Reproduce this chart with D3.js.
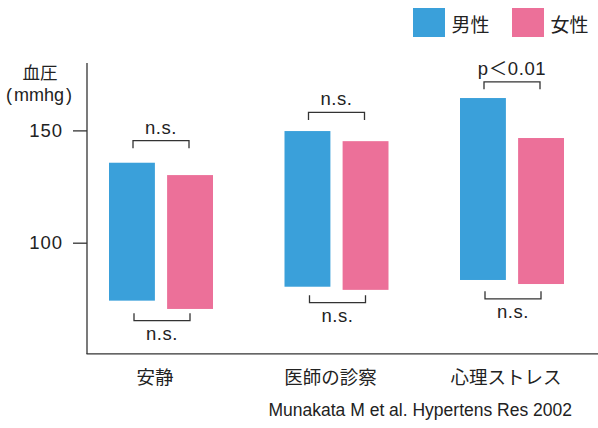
<!DOCTYPE html>
<html><head><meta charset="utf-8">
<script src="https://cdn.jsdelivr.net/npm/d3@7"></script>
<style>
html,body{margin:0;padding:0;background:#fff;}
svg{display:block;font-family:"Liberation Sans","Noto Sans CJK JP",sans-serif;}
</style></head>
<body>
<svg id="chart" width="598" height="428"></svg>
<script>
const categories = ["安静", "医師の診察", "心理ストレス"];
const sexes = ["男性", "女性"];
const colors = ["#3AA0DA", "#EC7099"];
// systolic (top) and diastolic (bottom) mmHg
const maleSys = [135.6, 149.7, 164.4];
const maleDia = [74.2, 80.4, 83.4];
const femaleSys = [130.1, 145.2, 146.6];
const femaleDia = [70.5, 79.0, 81.6];
const yTicks = [100, 150];
const topLabels = ["n.s.", "n.s.", "p＜0.01"];
const topBracket = [145.4, 158.0, 171.6];
const bottomLabels = ["n.s.", "n.s.", "n.s."];
const bottomBracket = [65.3, 73.3, 75.0];
const source = "Munakata M et al. Hypertens Res 2002";

const svg = d3.select("#chart");
const x0 = d3.scaleBand().domain(categories).range([73.25, 599.75]);
const x1 = d3.scaleBand().domain(sexes).range([-52, 52]).paddingInner(0.21);
const y = d3.scaleLinear().domain([50, 180]).range([355, 63]);
const axisColor = "#333";
const txt = "#222";

// axes lines
svg.append("line").attr("x1", 87).attr("x2", 87).attr("y1", y(180)).attr("y2", y(50.5))
  .attr("stroke", axisColor).attr("stroke-width", 1.3);
svg.append("line").attr("x1", 86.5).attr("x2", 598).attr("y1", y(50.5)).attr("y2", y(50.5))
  .attr("stroke", axisColor).attr("stroke-width", 1.3);

const yAxis = d3.axisLeft(y).tickValues(yTicks).tickSize(14).tickPadding(10);
const gy = svg.append("g").attr("transform", "translate(87,0)").call(yAxis);
gy.attr("font-size", null).attr("font-family", null);
gy.select(".domain").remove();
gy.selectAll(".tick line").attr("stroke", axisColor).attr("stroke-width", 1.3);
gy.selectAll(".tick text").style("font-size", "18.5px").attr("fill", txt)
  .style("letter-spacing", "1px")
  .style("font-family", "'Liberation Sans', sans-serif");

// y label
svg.append("text").attr("x", 40).attr("y", 78.5).attr("text-anchor", "middle")
  .style("font-size", "17.5px").attr("fill", txt)
  .style("font-family", "'Noto Sans CJK JP', sans-serif").text("血圧");
const yl2 = svg.append("text").attr("x", 6).attr("y", 100.5).attr("text-anchor", "start")
  .style("font-size", "18px").attr("fill", txt);
yl2.append("tspan").text("(");
yl2.append("tspan").attr("dx", 2).text("mmhg");
yl2.append("tspan").attr("dx", 2).text(")");

// bars
const rows = [];
categories.forEach((c, i) => {
  rows.push({c, s: sexes[0], top: maleSys[i], bot: maleDia[i], col: colors[0]});
  rows.push({c, s: sexes[1], top: femaleSys[i], bot: femaleDia[i], col: colors[1]});
});
svg.append("g").selectAll("rect").data(rows).join("rect")
  .attr("x", d => x0(d.c) + x0.bandwidth() / 2 + x1(d.s))
  .attr("width", x1.bandwidth())
  .attr("y", d => y(d.top))
  .attr("height", d => y(d.bot) - y(d.top))
  .attr("fill", d => d.col);

// brackets
const bk = svg.append("g").attr("fill", "none").attr("stroke", "#333").attr("stroke-width", 1.3);
categories.forEach((c, i) => {
  const cx = x0(c) + x0.bandwidth() / 2;
  const xl = cx + x1(sexes[0]) + 24, xr = cx + x1(sexes[1]) + x1.bandwidth() - 24;
  const yt = y(topBracket[i]);
  bk.append("path").attr("d", `M${xl},${yt + 7.5}V${yt}H${xr}V${yt + 7.5}`);
  svg.append("text").attr("x", (xl + xr) / 2).attr("y", yt - 7).attr("text-anchor", "middle")
    .style("font-size", "18.5px").attr("fill", txt).style("letter-spacing", "0.6px")
    .text(topLabels[i]);
  const yb = y(bottomBracket[i]);
  bk.append("path").attr("d", `M${xl + 1},${yb - 7.5}V${yb}H${xr + 1}V${yb - 7.5}`);
  svg.append("text").attr("x", (xl + xr) / 2 + 1).attr("y", yb + 19).attr("text-anchor", "middle")
    .style("font-size", "18.5px").attr("fill", txt).style("letter-spacing", "0.6px")
    .text(bottomLabels[i]);
});

// category labels
svg.append("g").selectAll("text").data(categories).join("text")
  .attr("x", d => x0(d) + x0.bandwidth() / 2 - 6)
  .attr("y", 384)
  .attr("text-anchor", "middle").style("font-size", "18.5px").attr("fill", txt)
  .style("font-family", "'Noto Sans CJK JP', sans-serif")
  .text(d => d);

// legend
const lg = svg.append("g");
sexes.forEach((s, i) => {
  const lx = 413 + i * 99;
  lg.append("rect").attr("x", lx).attr("y", 8).attr("width", 32).attr("height", 29).attr("fill", colors[i]);
  lg.append("text").attr("x", lx + 38.5).attr("y", 31.5).style("font-size", "19px").attr("fill", txt)
    .style("font-family", "'Noto Sans CJK JP', sans-serif").text(s);
});

// source
svg.append("text").attr("x", 572).attr("y", 416).attr("text-anchor", "end")
  .style("font-size", "17.5px").attr("fill", txt).text(source);
</script>
</body></html>
